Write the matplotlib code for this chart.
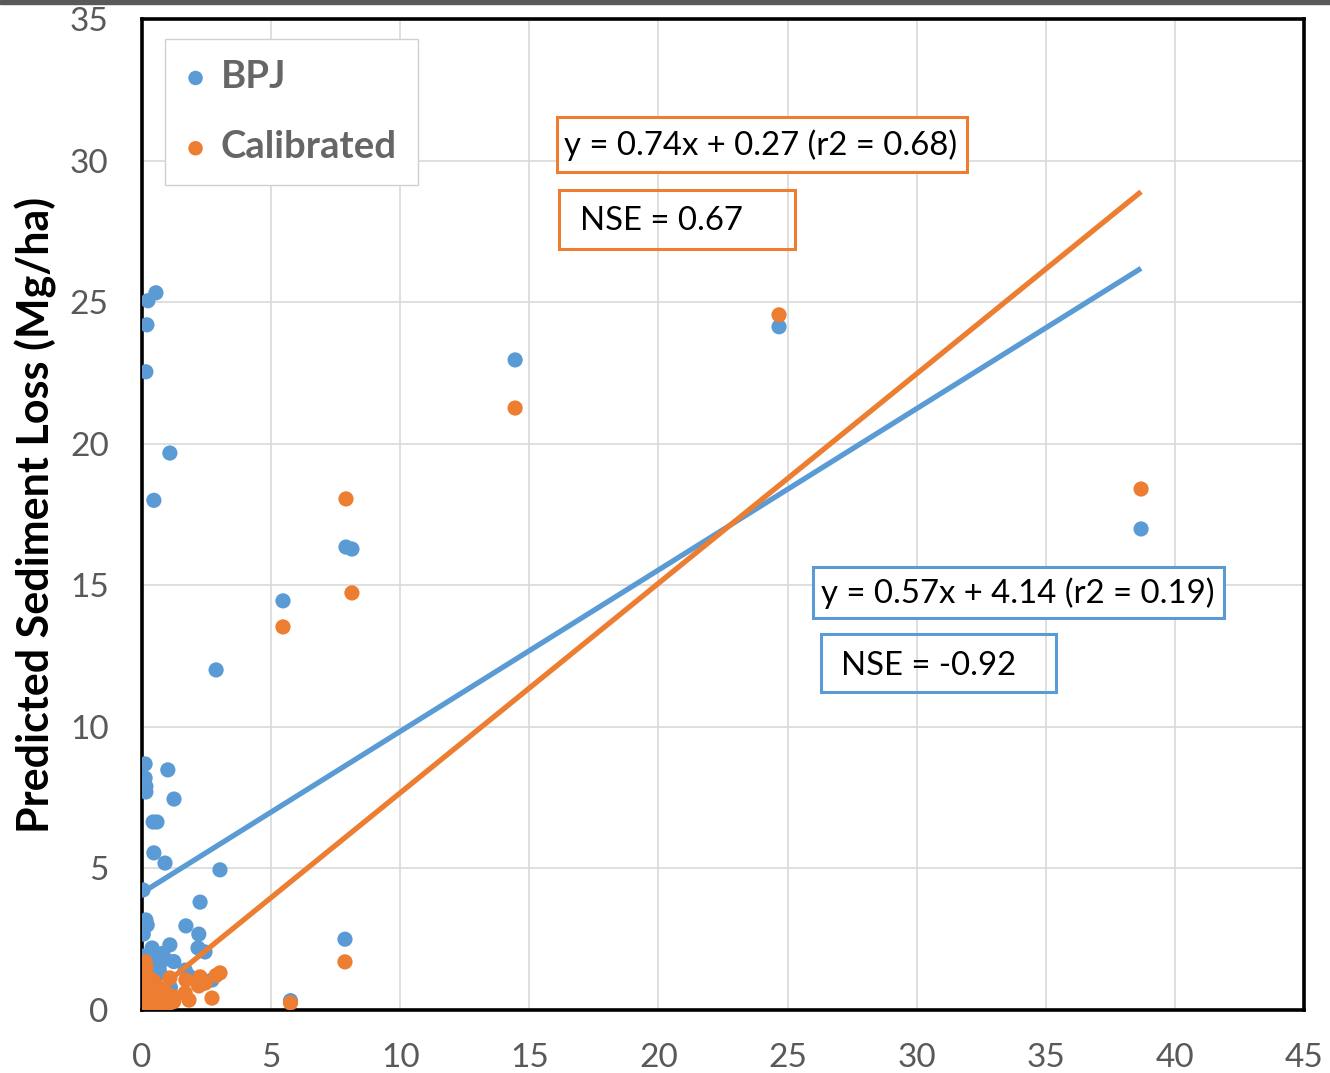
import matplotlib.pyplot as plt
import numpy as np
from matplotlib.patches import Rectangle

plt.rcParams['font.family'] = ['Lato', 'DejaVu Sans']

# observed sediment loss (Mg/ha), shared by both series
observed = [38.69, 24.67, 14.45, 7.90, 8.13, 5.46, 7.86, 5.75,
            0.54, 0.23, 0.19, 0.15, 1.08, 0.46, 2.87, 0.12, 1.00, 0.12,
            0.15, 0.15, 1.24, 0.43, 0.58, 0.46, 0.89, 3.02, 0.04, 2.25,
            1.70, 0.15, 0.20, 2.20, 0.05, 1.08, 2.17, 2.44, 0.39, 1.23,
            1.67, 2.71, 1.82, 0.66, 0.90,
            0.02, 0.05, 0.10, 0.30, 0.60, 0.80, 0.05, 0.20, 0.35, 0.70,
            0.02, 0.10, 0.25, 0.50, 0.03, 0.40, 0.15, 0.80, 1.10]

# predicted with BPJ parameters
bpj = [16.99, 24.13, 22.96, 16.35, 16.28, 14.45, 2.50, 0.33,
       25.33, 25.05, 24.20, 22.54, 19.67, 18.00, 12.01, 8.69, 8.48, 8.19,
       7.90, 7.70, 7.45, 6.64, 6.64, 5.55, 5.19, 4.95, 4.24, 3.81,
       2.97, 3.18, 3.00, 2.68, 2.68, 2.30, 2.19, 2.05, 2.19, 1.71,
       1.41, 1.06, 1.20, 1.50, 1.80,
       1.90, 1.60, 1.30, 1.80, 1.90, 2.00, 1.00, 0.60, 1.20, 1.30,
       0.30, 0.10, 0.20, 0.40, 0.05, 0.05, 0.30, 0.50, 0.80]

# predicted with calibrated parameters
calibrated = [18.40, 24.55, 21.26, 18.05, 14.73, 13.53, 1.70, 0.25,
              0.90, 0.50, 0.30, 1.50, 1.13, 0.70, 1.22, 1.70, 0.55, 0.20,
              1.20, 0.80, 0.46, 0.35, 0.15, 1.00, 0.64, 1.31, 0.10, 1.17,
              1.06, 0.60, 0.40, 0.85, 0.05, 0.25, 0.90, 0.95, 1.06, 0.30,
              0.60, 0.42, 0.35, 0.46, 0.30,
              0.90, 0.50, 0.20, 0.60, 0.80, 0.30, 0.10, 0.05, 0.25, 0.20,
              0.00, 0.02, 0.10, 0.15, 0.01, 0.02, 0.05, 0.20, 0.30]

# trendlines (slope, intercept)
bpj_fit = (0.57, 4.14)
cal_fit = (0.74, 0.27)

blue = '#5B9BD5'
orange = '#ED7D31'

fig = plt.figure(figsize=(13.3, 10.73), dpi=100)
ax = fig.add_axes([142/1330, 63/1073, 1162/1330, 991/1073])

ax.scatter(observed, bpj, s=120, color=blue, zorder=3, label='BPJ', edgecolors='none')
ax.scatter(observed, calibrated, s=120, color=orange, zorder=3, label='Calibrated', edgecolors='none')

xl = np.array([min(observed), max(observed)])
ax.plot(xl, bpj_fit[0]*xl + bpj_fit[1], color=blue, lw=3.8, zorder=4, solid_capstyle='butt')
ax.plot(xl, cal_fit[0]*xl + cal_fit[1], color=orange, lw=3.8, zorder=4, solid_capstyle='butt')

ax.set_xlim(0, 45)
ax.set_ylim(0, 35)
ax.set_xticks(np.arange(0, 46, 5))
ax.set_yticks(np.arange(0, 36, 5))
ax.grid(True, color='#d9d9d9', lw=1.2, zorder=0)
ax.set_axisbelow(True)
ax.tick_params(length=0, labelsize=24, labelcolor='#595959')
ax.tick_params(axis='x', pad=24)
ax.tick_params(axis='y', pad=24)
for sp in ax.spines.values():
    sp.set_linewidth(2.6)
    sp.set_color('black')

ax.set_ylabel('Predicted Sediment Loss (Mg/ha)', fontsize=31, fontweight='bold')
ax.yaxis.set_label_coords(-85/1162, 0.5)

leg = ax.legend(loc='upper left', bbox_to_anchor=(23/1162, 1-20/991), borderaxespad=0,
                prop={'weight': 'bold', 'size': 27.5},
                frameon=True, fancybox=False, edgecolor='#d0d0d0', framealpha=1,
                markerscale=0.95, handletextpad=0.4, labelspacing=0.95, borderpad=0.55,
                handlelength=0.5)
for t in leg.get_texts():
    t.set_color('#666666')

def box(x0, x1, y0, y1, col, fill):
    r = Rectangle(((x0-142)/1162, (1010-y1)/991), (x1-x0)/1162, (y1-y0)/991,
                  transform=ax.transAxes, facecolor='white' if fill else 'none',
                  edgecolor=col, lw=2.2, zorder=5)
    ax.add_patch(r)

box(557, 967, 117, 172, orange, True)
box(559, 795, 190, 249, orange, False)
box(813, 1224, 567, 618, blue, True)
box(821, 1056, 634, 692, blue, False)

def label(x, y, s):
    ax.text((x-142)/1162, (1010-y)/991, s, transform=ax.transAxes, fontsize=23.7,
            va='center', ha='left', color='black', zorder=6)

label(564, 145, 'y = 0.74x + 0.27 (r2 = 0.68)')
label(580, 221, 'NSE = 0.67')
label(821, 593, 'y = 0.57x + 4.14 (r2 = 0.19)')
label(841, 666, 'NSE = -0.92')

fig.patches.append(Rectangle((0, 1-4/1073), 1, 4/1073, transform=fig.transFigure,
                             color='#595959', zorder=10))

fig.savefig('out.png', dpi=100)
